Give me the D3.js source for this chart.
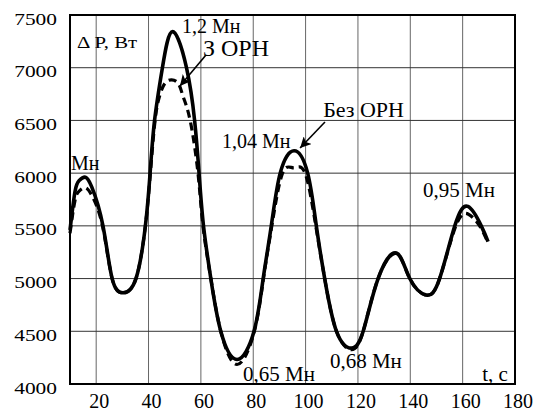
<!DOCTYPE html>
<html>
<head>
<meta charset="utf-8">
<script src="https://cdn.jsdelivr.net/npm/d3@7"></script>
</head>
<body style="margin:0">
<div id="chart"></div>
<script>
// --- data (t, s ; ΔP, Вт) ---
const xTicks = [20, 40, 60, 80, 100, 120, 140, 160, 180];
const yTicks = [4000, 4500, 5000, 5500, 6000, 6500, 7000, 7500];

// Без ОРН (solid)
const bezOrn = [
  [10, 5460], [11.9, 5824], [13.5, 5930], [15.7, 5962], [18.3, 5870], [22.6, 5500],
  [26.1, 5000], [30.3, 4865], [35.2, 5000], [38.8, 5500], [40.6, 6000], [42.3, 6500],
  [45.3, 7000], [49.2, 7342], [54.5, 7000], [57.6, 6500], [59.3, 6000], [61.0, 5500],
  [63.8, 5000], [67.6, 4500], [73.8, 4232], [80.3, 4500], [83.8, 5000], [86.9, 5500],
  [90.3, 6000], [95.6, 6213], [100.8, 6000], [104.1, 5500], [107.3, 5000], [111.8, 4500],
  [117.5, 4340], [122, 4500], [127.7, 5000], [134.7, 5242], [139.8, 5000], [146.1, 4844],
  [151.2, 5000], [157, 5500], [162, 5684], [167.1, 5500], [169.7, 5350]
];

// З ОРН (dashed)
const zOrn = [
  [10, 5430], [11.9, 5740], [13.5, 5830], [15.7, 5862], [18.3, 5790], [22.4, 5500],
  [26.1, 5000], [30.3, 4865], [35.2, 5000], [38.8, 5500], [40.7, 6000], [42.5, 6500],
  [44.2, 6730], [46.2, 6850], [48.8, 6885], [51.5, 6845], [53.3, 6720], [55.9, 6500],
  [58.9, 6000], [60.8, 5500], [63.8, 5000], [67.6, 4500], [73.8, 4185], [80.4, 4500],
  [83.9, 5000], [87.1, 5500], [91.2, 6000], [95.5, 6050], [99.8, 6000], [103.9, 5500],
  [107.3, 5000], [111.8, 4500], [117.5, 4325], [122, 4500], [127.7, 5000], [134.7, 5238],
  [139.8, 5000], [146.1, 4840], [151.2, 5000], [157.4, 5500], [162.2, 5610], [166.5, 5500],
  [169.5, 5350]
];

// annotations, placed in data units
const labels = [
  { t: 12.7, p: 7187, text: "Δ P, Вт", size: 16, sx: 1.3 },
  { t: 10.4, p: 6030, text: "Мн", size: 20 },
  { t: 52.8, p: 7329, text: "1,2 Мн", size: 20 },
  { t: 60.8, p: 7111, text: "З ОРН", size: 24 },
  { t: 68.1, p: 6238, text: "1,04 Мн", size: 20 },
  { t: 106.7, p: 6532, text: "Без ОРН", size: 22 },
  { t: 144.9, p: 5774, text: "0,95 Мн", size: 21 },
  { t: 109.3, p: 4152, text: "0,68 Мн", size: 21 },
  { t: 76.1, p: 4028, text: "0,65 Мн", size: 21 },
  { t: 167.5, p: 4028, text: "t, с", size: 21 }
];
const arrows = [
  { from: [61.95, 7121], to: [52.0, 6826] },
  { from: [107.4, 6485], to: [97.9, 6238] }
];

// --- setup ---
const width = 542, height = 411;
const margin = { top: 15, right: 27, bottom: 27, left: 70 };

const svg = d3.select("#chart").append("svg")
  .attr("width", width)
  .attr("height", height);

const x = d3.scaleLinear().domain([10, 180]).range([margin.left, width - margin.right]);
const y = d3.scaleLinear().domain([4000, 7500]).range([height - margin.bottom, margin.top]);

svg.append("defs").append("marker")
  .attr("id", "head")
  .attr("viewBox", "0 0 10 10")
  .attr("refX", 10).attr("refY", 5)
  .attr("markerWidth", 11).attr("markerHeight", 11)
  .attr("markerUnits", "userSpaceOnUse")
  .attr("orient", "auto")
  .append("path")
  .attr("d", "M0,0 L10,5 L0,10 L2.5,5 Z")
  .attr("fill", "#000");

// grid
svg.append("g").selectAll("line")
  .data(xTicks.filter(d => d < 180))
  .join("line")
  .attr("x1", d => x(d)).attr("x2", d => x(d))
  .attr("y1", y(4000)).attr("y2", y(7500))
  .attr("stroke", "#666").attr("stroke-width", 1);

svg.append("g").selectAll("line")
  .data(yTicks.filter(d => d > 4000 && d < 7500))
  .join("line")
  .attr("x1", x(10)).attr("x2", x(180))
  .attr("y1", d => y(d)).attr("y2", d => y(d))
  .attr("stroke", "#333").attr("stroke-width", 1);

// frame
svg.append("rect")
  .attr("x", x(10)).attr("y", y(7500))
  .attr("width", x(180) - x(10)).attr("height", y(4000) - y(7500))
  .attr("fill", "none").attr("stroke", "#000").attr("stroke-width", 2);

// curves
const line = d3.line()
  .x(d => x(d[0]))
  .y(d => y(d[1]))
  .curve(d3.curveNatural);

svg.append("path")
  .attr("d", line(zOrn))
  .attr("fill", "none")
  .attr("stroke", "#000")
  .attr("stroke-width", 3.2)
  .attr("stroke-dasharray", "8,5");

svg.append("path")
  .attr("d", line(bezOrn))
  .attr("fill", "none")
  .attr("stroke", "#000")
  .attr("stroke-width", 3.6);

svg.append("g").selectAll("line")
  .data(arrows)
  .join("line")
  .attr("x1", d => x(d.from[0])).attr("y1", d => y(d.from[1]))
  .attr("x2", d => x(d.to[0])).attr("y2", d => y(d.to[1]))
  .attr("stroke", "#000").attr("stroke-width", 1.6)
  .attr("marker-end", "url(#head)");

// tick labels
svg.selectAll("text.ytick")
  .data(yTicks)
  .join("text")
  .attr("class", "ytick")
  .attr("transform", d => `translate(57,${y(d) + 9.5}) scale(1.26,1)`)
  .attr("text-anchor", "end")
  .attr("font-size", 17)
  .style("font-family", '"Liberation Serif"')
  .text(d => d);

svg.selectAll("text.xtick")
  .data(xTicks)
  .join("text")
  .attr("class", "xtick")
  .attr("x", d => x(d) + 3)
  .attr("y", 408)
  .attr("text-anchor", "middle")
  .attr("font-size", 20)
  .style("font-family", '"Liberation Serif"')
  .text(d => d);

// annotations
svg.selectAll("text.note")
  .data(labels)
  .join("text")
  .attr("class", "note")
  .attr("transform", d => `translate(${x(d.t)},${y(d.p)}) scale(${d.sx || 1},1)`)
  .attr("font-size", d => d.size)
  .style("font-family", '"Liberation Serif"')
  .text(d => d.text);
</script>
</body>
</html>
